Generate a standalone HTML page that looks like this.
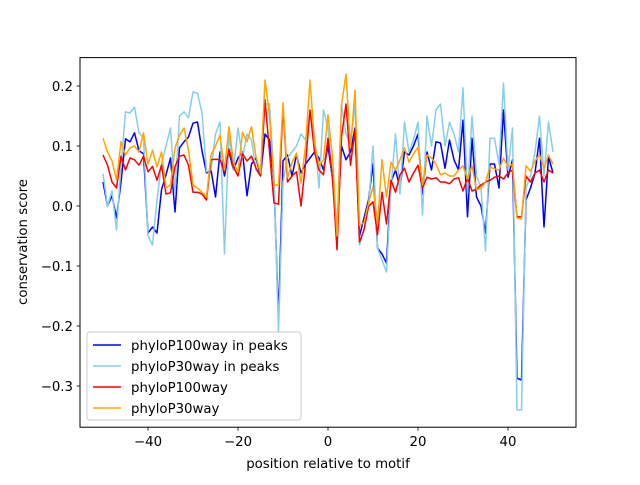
<!DOCTYPE html>
<html><head><meta charset="utf-8"><style>
html,body{margin:0;padding:0;background:#fff;}
svg text{font-family:"DejaVu Sans","Liberation Sans",sans-serif;font-size:13.3px;fill:#000;}
</style></head><body>
<svg id="chart" width="640" height="480" viewBox="0 0 640 480" xmlns="http://www.w3.org/2000/svg">
<rect width="640" height="480" fill="#fff"/>
<g id="series"></g>
<rect x="80" y="57.6" width="496" height="369.6" fill="none" stroke="#000" stroke-width="1"/>
<g id="axes"></g>
<text x="328" y="468" text-anchor="middle">position relative to motif</text>
<text transform="translate(27,242) rotate(-90)" text-anchor="middle">conservation score</text>
<g id="legend">
<rect x="87" y="332" width="214" height="88" rx="3" fill="#fff" fill-opacity="0.8" stroke="#ccc"/>
</g>
</svg>
<script>
const positions = [];
for (let p = -50; p <= 50; p++) positions.push(p);
const bluePeaks = [0.04,0.0,0.017,-0.02,0.04,0.112,0.107,0.122,0.092,0.087,-0.045,-0.035,-0.045,0.027,0.052,0.08,-0.01,0.097,0.107,0.115,0.138,0.14,0.092,0.055,0.06,
0.015,0.09,0.05,0.09,0.06,0.08,0.09,0.017,0.07,0.08,0.05,0.12,0.11,0.04,-0.19,0.075,0.085,0.05,0.085,0.055,0.07,0.08,0.09,0.08,0.06,
0.1,0.045,-0.04,0.1,0.077,0.09,0.13,-0.05,-0.02,0.01,0.07,-0.07,-0.08,-0.095,0.04,0.06,0.03,0.09,0.085,0.1,0.12,0.02,0.09,0.06,0.107,
0.105,0.063,0.11,0.077,0.06,0.143,-0.018,0.113,0.015,0.0,-0.045,0.07,0.07,0.03,0.16,0.048,0.077,-0.287,-0.29,0.01,0.03,0.055,0.113,-0.035,0.082,0.055];
const lightPeaks = [0.054,0.0,0.025,-0.04,0.066,0.157,0.155,0.165,0.122,0.113,-0.05,-0.065,0.01,0.07,0.1,0.13,0.023,0.15,0.157,0.147,0.19,0.188,0.155,0.057,0.06,
0.12,0.14,-0.08,0.12,0.06,0.13,0.08,0.12,0.11,0.06,0.05,0.17,0.17,0.05,-0.21,0.04,0.08,0.09,0.1,0.12,0.11,0.153,0.12,0.03,0.16,
0.13,0.04,-0.04,0.17,0.12,0.1,0.17,-0.065,-0.04,0.0,0.1,-0.07,-0.09,-0.11,0.03,0.12,0.02,0.14,0.09,0.11,0.14,-0.015,0.15,0.1,0.16,
0.17,0.1,0.14,0.12,0.09,0.197,0.02,0.15,0.05,0.03,-0.075,0.113,0.113,0.07,0.205,0.06,0.13,-0.34,-0.34,0.03,0.05,0.09,0.15,0.05,0.14,0.09];
const redAll = [0.085,0.068,0.04,0.03,0.083,0.06,0.08,0.077,0.068,0.083,0.057,0.066,0.043,0.068,0.02,0.022,0.066,0.083,0.085,0.068,0.023,0.023,0.02,0.01,0.077,
0.078,0.077,0.057,0.095,0.065,0.05,0.087,0.075,0.083,0.063,0.05,0.177,0.09,0.005,0.003,0.166,0.04,0.05,0.057,0.0,0.07,0.16,0.09,0.06,0.052,
0.113,0.047,-0.073,0.115,0.17,0.068,0.127,-0.06,-0.04,-0.001,0.007,-0.048,0.023,-0.03,0.043,0.023,0.052,0.063,0.04,0.055,0.068,0.03,0.048,0.045,0.047,
0.04,0.04,0.037,0.045,0.047,0.025,0.047,0.025,0.028,0.035,0.04,0.043,0.048,0.05,0.045,0.055,0.06,-0.018,-0.018,0.05,0.04,0.055,0.06,0.04,0.06,0.055];
const orangeAll = [0.113,0.09,0.075,0.043,0.107,0.085,0.097,0.1,0.09,0.122,0.07,0.093,0.065,0.09,0.03,0.035,0.097,0.118,0.13,0.093,0.035,0.03,0.023,0.015,0.085,
0.1,0.118,0.06,0.132,0.072,0.057,0.123,0.107,0.132,0.082,0.055,0.21,0.152,0.035,0.035,0.172,0.047,0.072,0.088,0.038,0.1,0.21,0.105,0.068,0.077,
0.152,0.082,-0.05,0.168,0.22,0.097,0.193,-0.032,-0.028,0.005,0.032,-0.03,0.077,0.015,0.073,0.06,0.077,0.097,0.073,0.087,0.098,0.035,0.085,0.08,0.07,
0.052,0.055,0.05,0.05,0.06,0.067,0.045,0.067,0.027,0.03,0.04,0.065,0.062,0.06,0.08,0.065,0.07,-0.02,-0.022,0.067,0.058,0.075,0.085,0.063,0.085,0.07];
const xTicks = [-40,-20,0,20,40];
const yTicks = [-0.3,-0.2,-0.1,0.0,0.1,0.2];
const seriesNames = ["phyloP100way in peaks","phyloP30way in peaks","phyloP100way","phyloP30way"];
const seriesColors = ["#0000ff","#87ceeb","#ff0000","#ffa500"];
const seriesData = [bluePeaks, lightPeaks, redAll, orangeAll];

const NS = "http://www.w3.org/2000/svg";
function xs(v){ return 328 + v*4.5; }
function ys(v){ return 206 - v*600; }
function mk(tag, attrs, parent){ const e=document.createElementNS(NS,tag); for(const k in attrs) e.setAttribute(k,attrs[k]); parent.appendChild(e); return e; }

const sg = document.getElementById('series');
seriesData.forEach((arr, si) => {
  const pts = arr.map((v,i)=>xs(positions[i]).toFixed(2)+","+ys(v).toFixed(2)).join(" ");
  const pl = mk('polyline',{points:pts,fill:'none',stroke:seriesColors[si],'stroke-width':1.5,'stroke-linejoin':'round'},sg);
  
  
});

const ax = document.getElementById('axes');
xTicks.forEach(t => {
  const x = xs(t);
  const l = mk('line',{x1:x,x2:x,y1:427.2,y2:430.7,stroke:'#000','stroke-width':0.8},ax);
  
  
  const tx = mk('text',{x:x,y:446,'text-anchor':'middle'},ax);
  tx.textContent = t < 0 ? '\u2212' + Math.abs(t) : String(t);
  
  
});
yTicks.forEach(t => {
  const y = ys(t);
  const l = mk('line',{x1:76.5,x2:80,y1:y,y2:y,stroke:'#000','stroke-width':0.8},ax);
  
  
  const tx = mk('text',{x:73,y:y+4.8,'text-anchor':'end'},ax);
  tx.textContent = t < 0 ? '\u2212' + Math.abs(t).toFixed(1) : t.toFixed(1);
  
  
});

const lg = document.getElementById('legend');
seriesNames.forEach((n, i) => {
  const y = 345 + i*21;
  const l = mk('line',{x1:93,x2:121,y1:y,y2:y,stroke:seriesColors[i],'stroke-width':1.5},lg);
  
  
  const t = mk('text',{x:131,y:y+4.8},lg);
  t.textContent = n;
  
  
});
</script>
</body></html>
